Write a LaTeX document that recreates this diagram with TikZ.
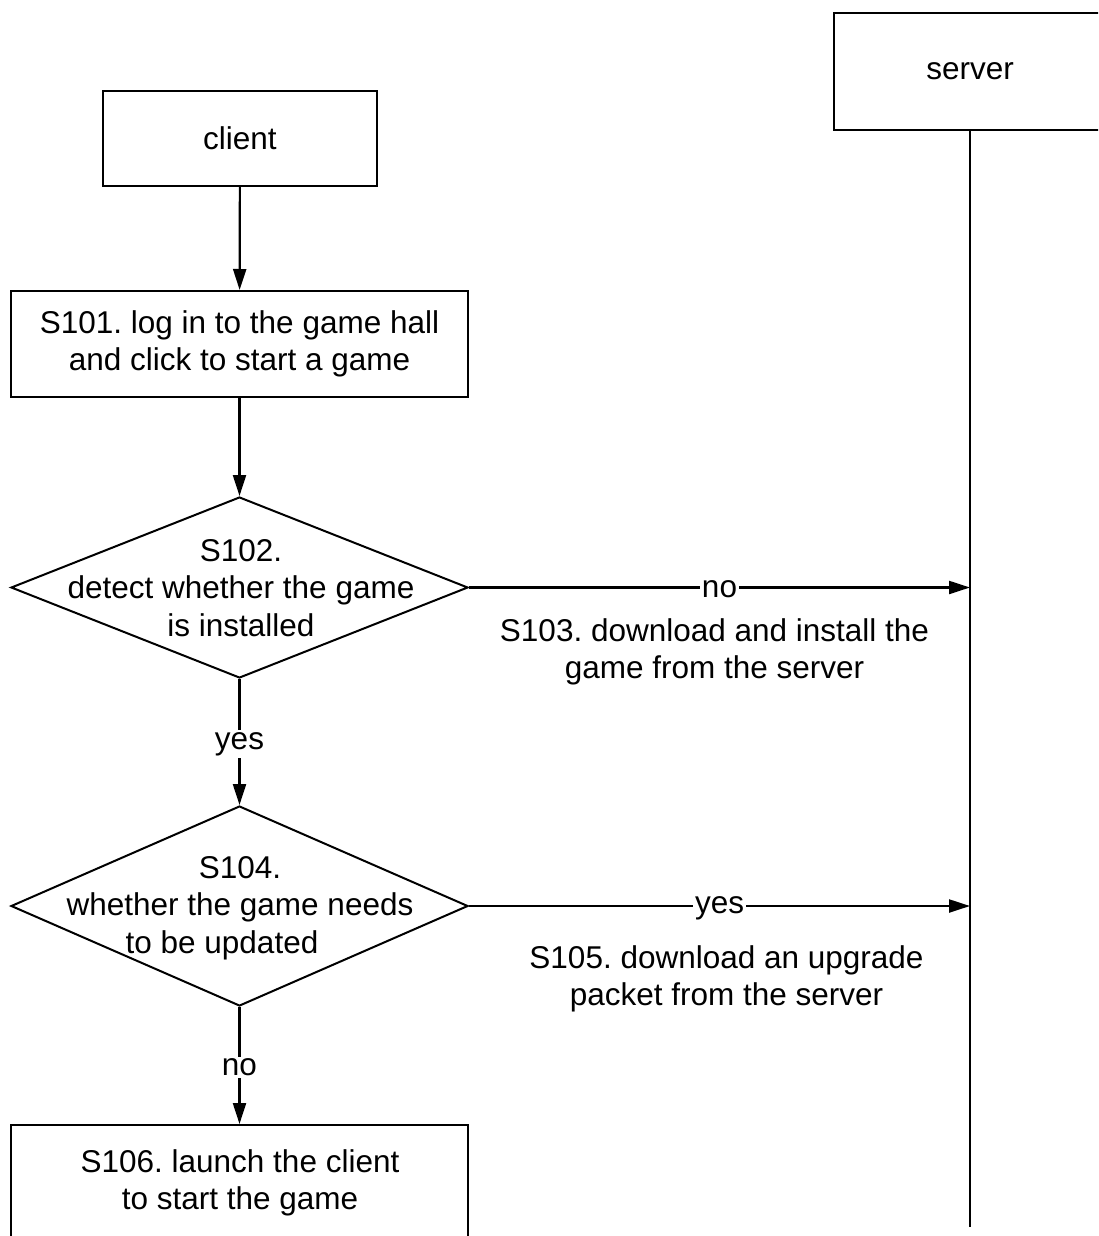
\documentclass[tikz,border=0pt]{standalone}
\usepackage{fontspec}
\setmainfont{Liberation Sans}
\usetikzlibrary{arrows.meta,shapes.geometric}
\frenchspacing
\begin{document}
\begin{tikzpicture}[x=1pt,y=-1pt,
  every node/.style={font=\fontsize{31.5}{37.5}\selectfont, align=center},
  box/.style={draw, line width=2pt, inner sep=0pt},
  dia/.style={draw, diamond, line width=2pt, inner sep=0pt},
  conn/.style={line width=2.2pt, -{Triangle[length=21pt,width=13pt]}},
  lbl/.style={fill=white, inner sep=2pt, yshift=-2pt}]
\useasboundingbox (0,0) rectangle (1098,1236);
\clip (0,0) rectangle (1098,1236);
% lanes
\node[box, minimum width=274pt, minimum height=95pt] (client) at (240,138.5) {client};
\node[box, minimum width=272pt, minimum height=117pt] (server) at (970,71.5) {server};
\coordinate (lifeend) at (970,1227);
\draw[line width=2.2pt] (server.south) -- (lifeend);
% steps
\node[box, minimum width=457pt, minimum height=106pt] (s101) at (239.5,344) {S101. log in to the game hall\\and click to start a game};
\node[dia, minimum width=457pt, minimum height=181pt] (s102) at (239.5,587.5) {};
\node (s102t) at (241,588) {S102.\\detect whether the game\\is installed};
\node[dia, minimum width=457pt, minimum height=200pt] (s104) at (239.5,906) {};
\node (s104t) at (240,908) {S104.\\whether the game needs\\to be updated\hspace*{36pt}};
\node[box, minimum width=457pt, minimum height=130pt] (s106) at (239.5,1190) {};
\node (s106t) at (240,1183) {S106. launch the client\\to start the game};
% connectors
\draw[conn] (client) -- (s101);
\draw[conn] (s101) -- (s102);
\draw[conn] (s102) -- node[lbl] {yes} (s104);
\draw[conn] (s104) -- node[lbl] {no} (s106);
\coordinate (srv1) at (970,587.5);
\coordinate (srv2) at (970,906);
\draw[conn] (s102.east) -- node[lbl] {no} (srv1);
\draw[conn] (s104.east) -- node[lbl] {yes} (srv2);
\node (s103) at (714.5,652) {S103. download and install the\\game from the server};
\node (s105) at (726.5,979) {S105. download an upgrade\\packet from the server};
\end{tikzpicture}
\end{document}
